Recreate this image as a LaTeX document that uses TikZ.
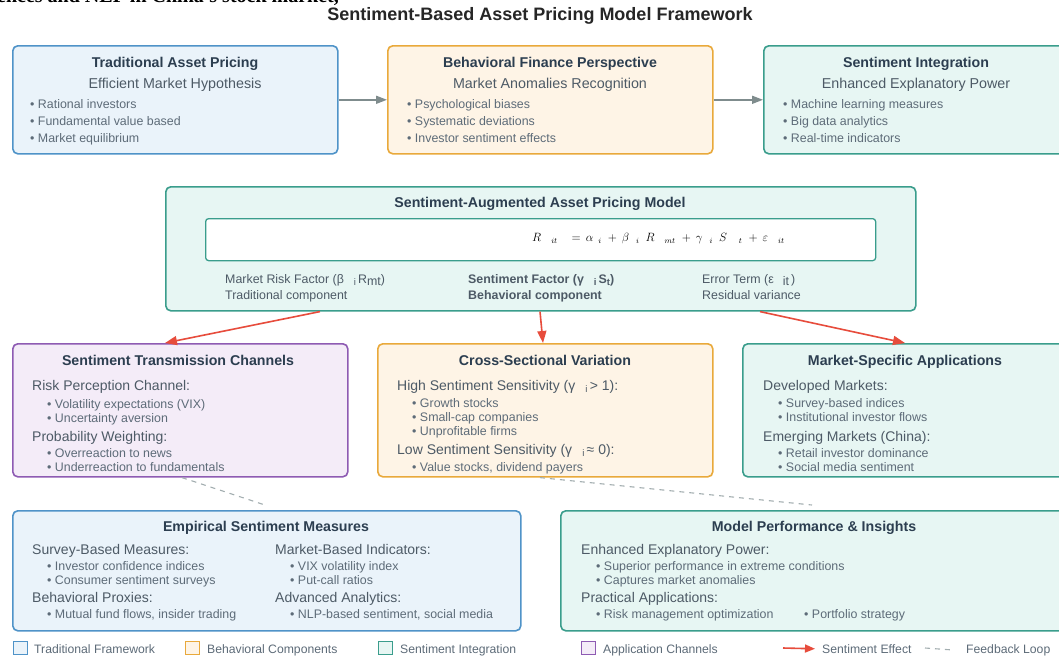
\documentclass[tikz,border=0pt]{standalone}
\usepackage{fontspec}
\setmainfont{Liberation Sans}
\newfontfamily\serifbold{Liberation Serif}
\usetikzlibrary{arrows.meta}

\definecolor{tradline}{HTML}{4F93C8}
\definecolor{tradfill}{HTML}{EAF3FA}
\definecolor{behline}{HTML}{E9A93B}
\definecolor{behfill}{HTML}{FEF4E6}
\definecolor{sentline}{HTML}{3A9D8C}
\definecolor{sentfill}{HTML}{E7F6F3}
\definecolor{appline}{HTML}{8E5BB3}
\definecolor{appfill}{HTML}{F4ECF8}
\definecolor{titlecol}{HTML}{2C3E50}
\definecolor{subcol}{HTML}{4D5A66}
\definecolor{bulcol}{HTML}{5D6B78}
\definecolor{arrowred}{HTML}{E74C3C}
\definecolor{arrowgray}{HTML}{7F8C8D}
\definecolor{dashgray}{HTML}{A3AEB0}

\newcommand{\fsz}[1]{\fontsize{#1}{#1}\selectfont}
\newcommand{\lowsub}[1]{\raisebox{-2.5pt}{\fsz{9.5}#1}}

\begin{document}
\begin{tikzpicture}[x=1pt,y=-1pt,
  panel/.style={draw, rounded corners=5pt, line width=1.6pt, inner sep=0pt, anchor=north west},
  tradbox/.style={panel, draw=tradline, fill=tradfill},
  behbox/.style={panel, draw=behline, fill=behfill},
  sentbox/.style={panel, draw=sentline, fill=sentfill},
  appbox/.style={panel, draw=appline, fill=appfill},
  txt/.style={inner sep=0pt, yshift=-2.5pt},
  headtxt/.style={txt, anchor=mid, text=titlecol, font=\fsz{14.2}\bfseries},
  subtxt/.style={txt, anchor=mid, text=subcol, font=\fsz{14.3}},
  grouptxt/.style={txt, anchor=mid west, text=subcol, font=\fsz{14}},
  bullettxt/.style={txt, anchor=mid west, text=bulcol, font=\fsz{12.4}},
  labeltxt/.style={txt, anchor=mid west, text=subcol, font=\fsz{12.4}},
  legtxt/.style={txt, anchor=mid west, text=bulcol, font=\fsz{12.2}},
  legsq/.style={draw, line width=1.4pt, minimum size=13.5pt, inner sep=0pt, anchor=west},
  grayarrow/.style={draw=arrowgray, line width=1.6pt, -{Triangle[length=11pt,width=8pt]}},
  redarrow/.style={draw=arrowred, line width=1.6pt, -{Triangle[length=12pt,width=9pt]}},
  feedback/.style={draw=dashgray, line width=1.1pt, dash pattern=on 5pt off 5pt}]

\useasboundingbox (0,0) rectangle (1059,656);
\clip (0,0) rectangle (1059,656);
\fill[white] (0,0) rectangle (1059,656);

% heading line running in from the page above, mostly cut off
\node[inner sep=0pt, anchor=base west, font=\serifbold\fsz{20}\bfseries] (cut) at (-3,2) {ences and NLP in China's stock market,};

% main title
\node[txt, anchor=mid, text=black!85, font=\fsz{18}\bfseries] (title) at (540,15) {Sentiment-Based Asset Pricing Model Framework};

% ---------- top row ----------
\node[tradbox, minimum width=325pt, minimum height=108pt] (trad) at (12,45) {};
\node[behbox, minimum width=325pt, minimum height=108pt] (beh) at (387,45) {};
\node[sentbox, minimum width=306pt, minimum height=108pt] (sent) at (763,45) {};

\node[headtxt] (tradh) at (175,62) {Traditional Asset Pricing};
\node[subtxt] (trads) at (175,83) {Efficient Market Hypothesis};
\node[bullettxt] (tradb1) at (30,103) {• Rational investors};
\node[bullettxt] (tradb2) at (30,120) {• Fundamental value based};
\node[bullettxt] (tradb3) at (30,137) {• Market equilibrium};

\node[headtxt] (behh) at (550,62) {Behavioral Finance Perspective};
\node[subtxt] (behs) at (550,83) {Market Anomalies Recognition};
\node[bullettxt] (behb1) at (407,103) {• Psychological biases};
\node[bullettxt] (behb2) at (407,120) {• Systematic deviations};
\node[bullettxt] (behb3) at (407,137) {• Investor sentiment effects};

\node[headtxt] (senth) at (916,62) {Sentiment Integration};
\node[subtxt] (sents) at (916,83) {Enhanced Explanatory Power};
\node[bullettxt] (sentb1) at (783,103) {• Machine learning measures};
\node[bullettxt] (sentb2) at (783,120) {• Big data analytics};
\node[bullettxt] (sentb3) at (783,137) {• Real-time indicators};

\draw[grayarrow] (trad.east) -- (beh.west);
\draw[grayarrow] (beh.east) -- (sent.west);

% ---------- model ----------
\node[sentbox, minimum width=750pt, minimum height=124pt] (model) at (165,186) {};
\node[headtxt] (modelh) at (540,202) {Sentiment-Augmented Asset Pricing Model};
\node[panel, draw=sentline, line width=1.3pt, rounded corners=3pt, fill=white, minimum width=670pt, minimum height=42pt] (eqbox) at (205,218) {};
\node[inner sep=0pt, anchor=mid west, yshift=-1pt, font=\fsz{11.5}] (eq) at (532,238)
  {$R$\hspace{10pt}${}_{it}$\hspace{14pt}$=$\hspace{5pt}$\alpha$\hspace{5pt}${}_{i}$\hspace{6pt}$+$\hspace{5pt}$\beta$\hspace{7pt}${}_{i}$\hspace{6pt}$R$\hspace{10pt}${}_{mt}$\hspace{6pt}$+$\hspace{5pt}$\gamma$\hspace{7pt}${}_{i}$\hspace{6pt}$S$\hspace{12pt}${}_{t}$\hspace{6pt}$+$\hspace{5pt}$\varepsilon$\hspace{10pt}${}_{it}$};

\node[labeltxt] (l1a) at (225,278) {Market Risk Factor (β\hspace{10pt}\lowsub{i}\,R\raisebox{-2pt}{mt})};
\node[labeltxt] (l1b) at (225,294) {Traditional component};
\node[labeltxt, font=\fsz{12.4}\bfseries] (l2a) at (468,278) {Sentiment Factor (γ\hspace{10pt}\lowsub{i}\,S\raisebox{-2pt}{\fsz{9.5}t})};
\node[labeltxt, font=\fsz{12.4}\bfseries] (l2b) at (468,294) {Behavioral component};
\node[labeltxt] (l3a) at (702,278) {Error Term (ε\hspace{9pt}\raisebox{-2.5pt}{it}\,)};
\node[labeltxt] (l3b) at (702,294) {Residual variance};

% ---------- middle row ----------
\node[appbox, minimum width=335pt, minimum height=133pt] (trans) at (12,343) {};
\node[behbox, minimum width=335pt, minimum height=133pt] (cross) at (377,343) {};
\node[sentbox, minimum width=326pt, minimum height=133pt] (market) at (742,343) {};

\node[headtxt] (transh) at (178,360) {Sentiment Transmission Channels};
\node[grouptxt] (transg1) at (32,385) {Risk Perception Channel:};
\node[bullettxt] (transb1) at (47,403) {• Volatility expectations (VIX)};
\node[bullettxt] (transb2) at (47,417) {• Uncertainty aversion};
\node[grouptxt] (transg2) at (32,436) {Probability Weighting:};
\node[bullettxt] (transb3) at (47,452) {• Overreaction to news};
\node[bullettxt] (transb4) at (47,466) {• Underreaction to fundamentals};

\node[headtxt] (crossh) at (545,360) {Cross-Sectional Variation};
\node[grouptxt] (crossg1) at (397,385) {High Sentiment Sensitivity (γ\hspace{10pt}\lowsub{i}\,> 1):};
\node[bullettxt] (crossb1) at (412,402) {• Growth stocks};
\node[bullettxt] (crossb2) at (412,416) {• Small-cap companies};
\node[bullettxt] (crossb3) at (412,430) {• Unprofitable firms};
\node[grouptxt] (crossg2) at (397,449) {Low Sentiment Sensitivity (γ\hspace{10pt}\lowsub{i}\,≈ 0):};
\node[bullettxt] (crossb4) at (412,466) {• Value stocks, dividend payers};

\node[headtxt] (marketh) at (905,360) {Market-Specific Applications};
\node[grouptxt] (marketg1) at (763,385) {Developed Markets:};
\node[bullettxt] (marketb1) at (778,402) {• Survey-based indices};
\node[bullettxt] (marketb2) at (778,416) {• Institutional investor flows};
\node[grouptxt] (marketg2) at (763,436) {Emerging Markets (China):};
\node[bullettxt] (marketb3) at (778,452) {• Retail investor dominance};
\node[bullettxt] (marketb4) at (778,466) {• Social media sentiment};

% sentiment effect arrows
\draw[redarrow] (model.south -| 320,0) -- (trans.north -| 165,0);
\draw[redarrow] (model.south -| 540,0) -- (cross.north -| 543,0);
\draw[redarrow] (model.south -| 760,0) -- (market.north -| 905,0);

% ---------- bottom row ----------
\node[tradbox, minimum width=508pt, minimum height=120pt] (emp) at (12,510) {};
\node[sentbox, minimum width=508pt, minimum height=120pt] (perf) at (560,510) {};

\node[headtxt] (emph) at (266,526) {Empirical Sentiment Measures};
\node[grouptxt] (empg1) at (32,549) {Survey-Based Measures:};
\node[bullettxt] (empb1) at (47,565) {• Investor confidence indices};
\node[bullettxt] (empb2) at (47,579) {• Consumer sentiment surveys};
\node[grouptxt] (empg2) at (32,597) {Behavioral Proxies:};
\node[bullettxt] (empb3) at (47,613) {• Mutual fund flows, insider trading};
\node[grouptxt] (empg3) at (275,549) {Market-Based Indicators:};
\node[bullettxt] (empb4) at (290,565) {• VIX volatility index};
\node[bullettxt] (empb5) at (290,579) {• Put-call ratios};
\node[grouptxt] (empg4) at (275,597) {Advanced Analytics:};
\node[bullettxt] (empb6) at (290,613) {• NLP-based sentiment, social media};

\node[headtxt] (perfh) at (814,526) {Model Performance \& Insights};
\node[grouptxt] (perfg1) at (581,549) {Enhanced Explanatory Power:};
\node[bullettxt] (perfb1) at (596,565) {• Superior performance in extreme conditions};
\node[bullettxt] (perfb2) at (596,579) {• Captures market anomalies};
\node[grouptxt] (perfg2) at (581,597) {Practical Applications:};
\node[bullettxt] (perfb3) at (596,613) {• Risk management optimization};
\node[bullettxt] (perfb4) at (804,613) {• Portfolio strategy};

% feedback loops
\coordinate (fb1) at (265,505);
\coordinate (fb2) at (812,505);
\draw[feedback] (trans.south -| 182,0) -- (fb1);
\draw[feedback] (cross.south -| 540,0) -- (fb2);

% ---------- legend ----------
\node[legsq, draw=tradline, fill=tradfill] (lg1) at (13,648) {};
\node[legtxt] (lg1t) at (34,648) {Traditional Framework};
\node[legsq, draw=behline, fill=behfill] (lg2) at (185,648) {};
\node[legtxt] (lg2t) at (207,648) {Behavioral Components};
\node[legsq, draw=sentline, fill=sentfill] (lg3) at (378,648) {};
\node[legtxt] (lg3t) at (400,648) {Sentiment Integration};
\node[legsq, draw=appline, fill=appfill] (lg4) at (581,648) {};
\node[legtxt] (lg4t) at (603,648) {Application Channels};
\coordinate (lg5a) at (783,648);
\node[legtxt] (lg5t) at (822,648) {Sentiment Effect};
\draw[redarrow, -{Triangle[length=10pt,width=8pt]}] (lg5a) -- (lg5t.west -| 815,0);
\coordinate (lg6a) at (925,648);
\node[legtxt] (lg6t) at (966,648) {Feedback Loop};
\draw[feedback] (lg6a) -- (lg6t.west -| 953,0);

\end{tikzpicture}
\end{document}
